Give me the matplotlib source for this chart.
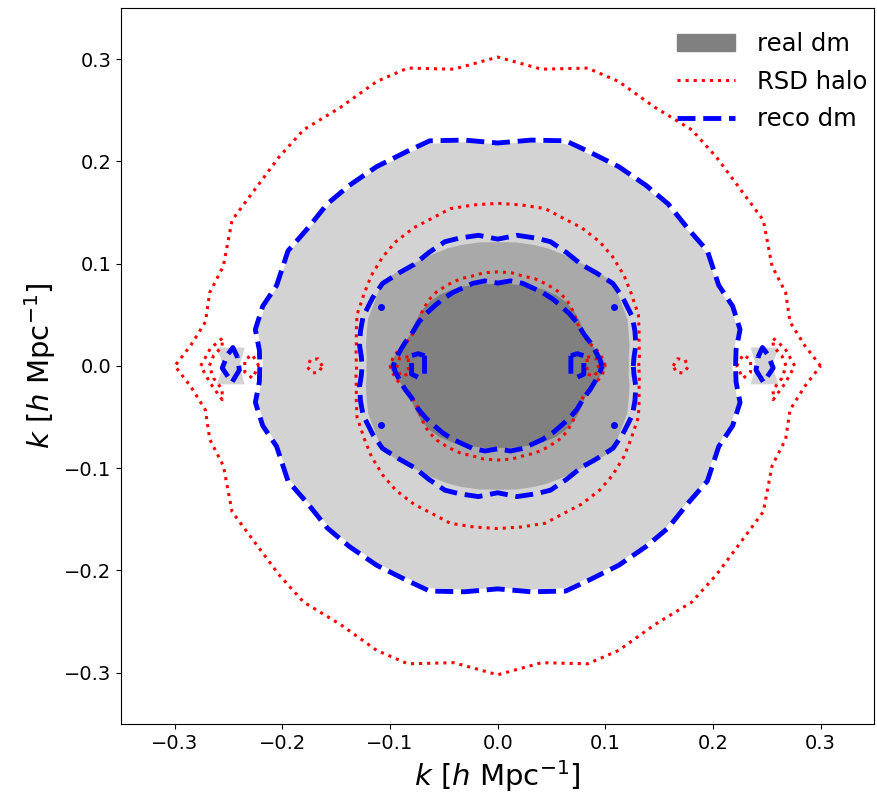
import numpy as np
import matplotlib.pyplot as plt
from matplotlib.patches import Patch
from matplotlib.lines import Line2D

# polar samples of each contour in the first quadrant (deg, k)
theta = [0, 4, 9, 15, 21, 30, 37, 45, 52, 60, 68, 74, 82, 90]

# real dm, filled levels (outer -> inner)
real_lo = [0.218, 0.220, 0.226, 0.224, 0.219, 0.223, 0.221, 0.222, 0.222, 0.223, 0.224, 0.226, 0.221, 0.217]
real_mid = [0.122, 0.122, 0.124, 0.126, 0.129, 0.131, 0.135, 0.131, 0.127, 0.125, 0.124, 0.123, 0.122, 0.121]
real_hi = [0.101, 0.098, 0.093, 0.089, 0.087, 0.088, 0.089, 0.089, 0.088, 0.086, 0.084, 0.082, 0.081, 0.080]

# RSD halo contours
rsd_lo = [0.300, 0.286, 0.275, 0.277, 0.273, 0.285, 0.284, 0.288, 0.293, 0.292, 0.300, 0.303, 0.293, 0.302]
rsd_mid = [0.131, 0.132, 0.133, 0.136, 0.140, 0.143, 0.147, 0.151, 0.154, 0.156, 0.157, 0.160, 0.159, 0.159]
rsd_hi = [0.100, 0.098, 0.094, 0.088, 0.085, 0.085, 0.088, 0.091, 0.092, 0.092, 0.092, 0.091, 0.092, 0.092]

# reco dm contours
reco_lo = [0.221, 0.222, 0.228, 0.226, 0.220, 0.225, 0.222, 0.224, 0.224, 0.225, 0.226, 0.229, 0.223, 0.218]
reco_mid = [0.126, 0.127, 0.130, 0.132, 0.134, 0.134, 0.134, 0.129, 0.126, 0.128, 0.131, 0.130, 0.129, 0.124]
reco_hi = [0.097, 0.095, 0.092, 0.089, 0.086, 0.085, 0.084, 0.083, 0.083, 0.083, 0.083, 0.084, 0.084, 0.081]

# small islands near the k_y = 0 axis (k>0 side; mirrored to k<0)
real_island = [(0.235, 0.018), (0.261, 0.018), (0.255, 0.0), (0.261, -0.018), (0.235, -0.018), (0.240, 0.0)]
rsd_islands = [
    # crescent just outside the light patch
    [(0.256, 0.027), (0.267, 0.017), (0.276, 0.0), (0.267, -0.017), (0.256, -0.033),
     (0.256, -0.023), (0.264, -0.012), (0.268, 0.0), (0.264, 0.010), (0.256, 0.019)],
    [(0.222, 0.0), (0.228, 0.011), (0.235, 0.006), (0.235, -0.006), (0.228, -0.012)],
    [(0.163, 0.0), (0.167, 0.007), (0.174, 0.006), (0.177, -0.001), (0.172, -0.007), (0.166, -0.006)],
    [(0.083, 0.009), (0.091, 0.008), (0.094, -0.002), (0.090, -0.010), (0.083, -0.008)],
]
reco_islands = [
    [(0.242, 0.009), (0.246, 0.018), (0.251, 0.011), (0.256, -0.002), (0.247, -0.016), (0.240, -0.004)],
    [(0.068, 0.010), (0.068, -0.008), (0.074, -0.011), (0.080, -0.008), (0.080, 0.010), (0.074, 0.012)],
]
reco_dots = [(0.108, 0.058), (0.108, -0.058)]


def ring(r):
    t = np.radians(theta)
    r = np.asarray(r)
    x, y = r * np.cos(t), r * np.sin(t)
    # walk the quadrant round all four quadrants, angle increasing
    xs = np.concatenate([x, -x[::-1][1:], -x[1:], x[::-1][1:]])
    ys = np.concatenate([y, y[::-1][1:], -y[1:], -y[::-1][1:]])
    return xs, ys


def both_sides(pts):
    p = np.array(pts + [pts[0]])
    return [(p[:, 0], p[:, 1]), (-p[:, 0], p[:, 1])]


fig = plt.figure(figsize=(8.77, 7.99), dpi=100)
ax = fig.add_axes([0.138, 0.094, 0.859, 0.896])

for r, c in [(real_lo, 'lightgray'), (real_mid, 'darkgray'), (real_hi, 'gray')]:
    ax.fill(*ring(r), color=c, lw=0)
for xx, yy in both_sides(real_island):
    ax.fill(xx, yy, color='lightgray', lw=0)

red = dict(color='red', ls=':', lw=2.2)
blue = dict(color='blue', ls='--', lw=3.5)

for r in (rsd_lo, rsd_mid, rsd_hi):
    ax.plot(*ring(r), **red)
for isl in rsd_islands:
    for xx, yy in both_sides(isl):
        ax.plot(xx, yy, **red)

for r in (reco_lo, reco_mid, reco_hi):
    ax.plot(*ring(r), **blue)
for isl in reco_islands:
    for xx, yy in both_sides(isl):
        ax.plot(xx, yy, **blue)
for cx, cy in reco_dots:
    for sx in (1, -1):
        ax.plot(sx * cx, cy, 'o', color='blue', ms=4)

ax.set_xlim(-0.35, 0.35)
ax.set_ylim(-0.35, 0.35)
ticks = [-0.3, -0.2, -0.1, 0.0, 0.1, 0.2, 0.3]
ax.set_xticks(ticks)
ax.set_yticks(ticks)
ax.tick_params(labelsize=14)
ax.set_xlabel(r'$k$ [$h$ Mpc$^{-1}$]', fontsize=21)
ax.set_ylabel(r'$k$ [$h$ Mpc$^{-1}$]', fontsize=21)

handles = [Patch(color='gray', label='real dm'),
           Line2D([], [], label='RSD halo', **red),
           Line2D([], [], label='reco dm', **blue)]
ax.legend(handles=handles, loc='upper right', bbox_to_anchor=(1.023, 1.0),
          frameon=False, fontsize=17.5, handlelength=2.4, handletextpad=0.9,
          labelspacing=0.55, borderaxespad=0.6)

fig.savefig('out.png', dpi=100)
